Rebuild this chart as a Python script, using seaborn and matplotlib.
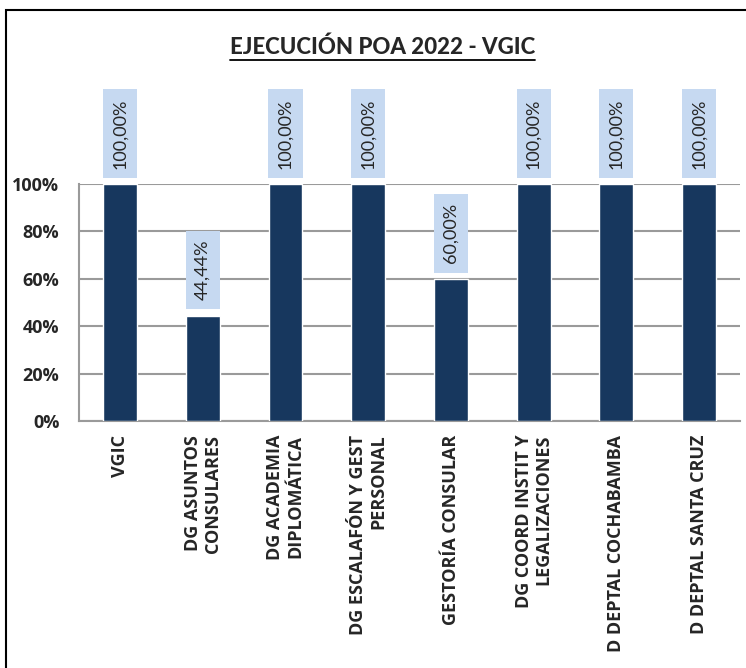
import matplotlib
matplotlib.use("Agg")
import matplotlib.pyplot as plt
import matplotlib.patches as mpatches
from matplotlib.lines import Line2D
from matplotlib.ticker import PercentFormatter
import pandas as pd
import seaborn as sns

CATEGORIES = [
    "VGIC",
    "DG ASUNTOS\nCONSULARES",
    "DG ACADEMIA\nDIPLOMÁTICA",
    "DG ESCALAFÓN Y GEST\nPERSONAL",
    "GESTORÍA CONSULAR",
    "DG COORD INSTIT Y\nLEGALIZACIONES",
    "D DEPTAL COCHABAMBA",
    "D DEPTAL SANTA CRUZ",
]
EXECUTION = [1.0, 0.4444, 1.0, 1.0, 0.60, 1.0, 1.0, 1.0]
LABELS = ["100,00%", "44,44%", "100,00%", "100,00%", "60,00%", "100,00%", "100,00%", "100,00%"]

BAR_COLOR = "#17375E"
LABEL_BG = "#C6D9F1"
GRID_COLOR = "#9A9A9A"

sns.set_style("white")
plt.rcParams["font.family"] = ["Lato", "DejaVu Sans"]
BOLD_FONT = ["Open Sans", "DejaVu Sans"]

df = pd.DataFrame({"area": CATEGORIES, "pct": EXECUTION})

fig = plt.figure(figsize=(7.46, 6.68), dpi=100)
ax = fig.add_axes([0.1055, 0.3698, 0.887, 0.3548])

sns.barplot(data=df, x="area", y="pct", color=BAR_COLOR, width=0.41,
            saturation=1, ax=ax, zorder=3)

ax.set_ylim(0, 1)
ax.set_yticks([0, 0.2, 0.4, 0.6, 0.8, 1.0])
ax.yaxis.set_major_formatter(PercentFormatter(1.0, decimals=0))
ax.grid(axis="y", color=GRID_COLOR, linewidth=1.5, zorder=0)
ax.set_axisbelow(True)
for side in ["top", "right"]:
    ax.spines[side].set_visible(False)
for side in ["left", "bottom"]:
    ax.spines[side].set_color(GRID_COLOR)
    ax.spines[side].set_linewidth(1.5)
ax.set_xlabel("")
ax.set_ylabel("")
ax.tick_params(axis="y", length=0, pad=14)
ax.tick_params(axis="x", length=0, pad=10)
for t in ax.get_yticklabels():
    t.set_fontweight("bold")
    t.set_family(BOLD_FONT)
    t.set_fontsize(13)
ax.set_xticks(range(len(CATEGORIES)))
ax.set_xticklabels(CATEGORIES, rotation=90, fontsize=13, fontweight="bold",
                   family=BOLD_FONT, va="top", ha="center",
                   multialignment="right", linespacing=1.15)

for i, (v, lab) in enumerate(zip(EXECUTION, LABELS)):
    ax.annotate(lab, xy=(i, v), xytext=(0, 11), textcoords="offset points",
                rotation=90, ha="center", va="bottom", fontsize=13,
                annotation_clip=False, zorder=4,
                bbox=dict(boxstyle="square,pad=0.5", fc=LABEL_BG, ec="none"))

title = fig.text(0.513, 0.93, "EJECUCIÓN POA 2022 - VGIC", ha="center",
                 va="center", fontsize=16, fontweight=900)

fig.patches.append(mpatches.Rectangle((6 / 746, -0.01), 1.0, 1 - 10 / 668 + 0.01,
                                      transform=fig.transFigure, fill=False,
                                      edgecolor="black", linewidth=1.5))

fig.canvas.draw()
bb = title.get_window_extent().transformed(fig.transFigure.inverted())
uy = bb.y0 - 2 / 668
fig.lines.append(Line2D([bb.x0, bb.x1], [uy, uy], transform=fig.transFigure,
                        color="black", linewidth=1.3))

fig.savefig("out.png", dpi=100)
